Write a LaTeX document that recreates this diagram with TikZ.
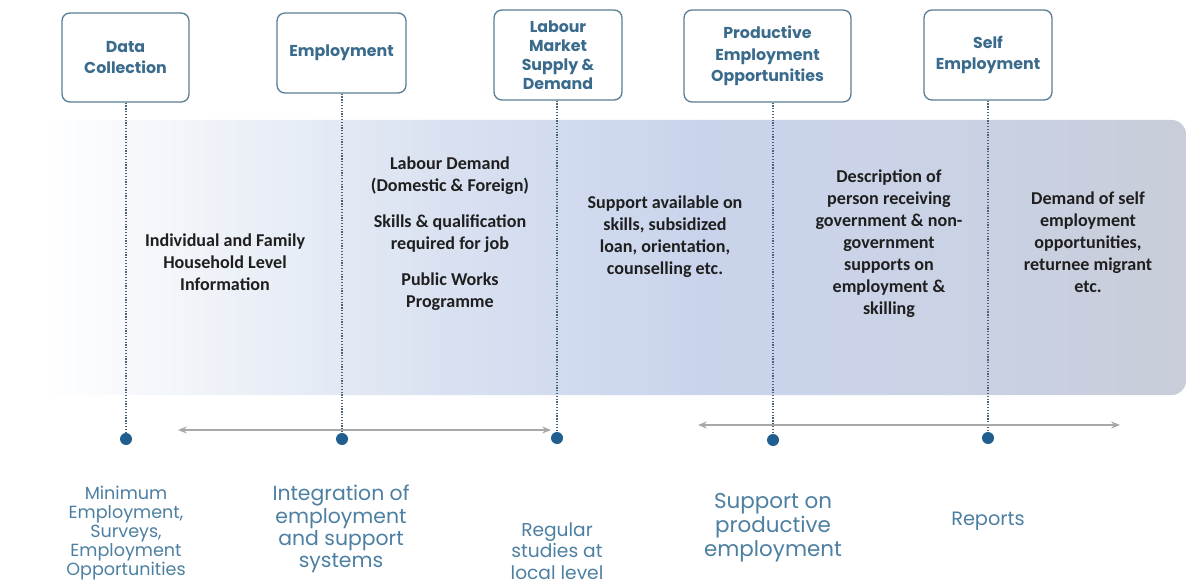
\documentclass[tikz,border=0pt]{standalone}
\usepackage{fontspec}
\setmainfont{Carlito}
\newfontfamily\gothic{Poppins}
\usetikzlibrary{arrows.meta, positioning}

\definecolor{titleblue}{HTML}{3A6B8C}
\definecolor{lblblue}{HTML}{4C7FA1}
\definecolor{boxline}{HTML}{5A7E95}
\definecolor{dotblue}{HTML}{1F5E8E}
\definecolor{vline}{HTML}{4A6378}
\definecolor{arrowgray}{HTML}{A8A8A8}
\definecolor{bandA}{HTML}{EBF0F7}
\definecolor{bandB}{HTML}{D9E1F1}
\definecolor{bandC}{HTML}{C9D4EC}
\definecolor{bandD}{HTML}{CAD2E5}
\definecolor{bandE}{HTML}{C8CDD8}

\begin{document}
\begin{tikzpicture}[
    x=0.02cm, y=-0.02cm,
    box/.style={draw=boxline, line width=0.75pt, rounded corners=4.5pt, fill=white, align=center, inner sep=0pt,
        text=titleblue, font=\gothic\bfseries\fontsize{9}{11.5}\selectfont},
    txt/.style={align=center, inner sep=0pt, text=black!88, font=\bfseries\fontsize{10.3}{12.5}\selectfont},
    lbl/.style={align=center, inner sep=0pt, text=lblblue},
    dot/.style={circle, fill=dotblue, inner sep=0pt, minimum size=0.24cm},
    dline/.style={draw=vline, line width=0.6pt, dash pattern=on 0.7pt off 0.9pt},
    garrow/.style={{Stealth[length=5pt,width=4pt]}-{Stealth[length=5pt,width=4pt]}, draw=arrowgray, line width=0.7pt}
]
    \useasboundingbox (0,0) rectangle (1186,584);

    % shaded band
    \begin{scope}
        \clip[rounded corners=8pt] (40,120) rectangle (1186,395);
        \shade[left color=white, right color=bandA] (40,120) rectangle (251,395);
        \shade[left color=bandA, right color=bandB] (250,120) rectangle (451,395);
        \shade[left color=bandB, right color=bandC] (450,120) rectangle (701,395);
        \shade[left color=bandC, right color=bandD] (700,120) rectangle (951,395);
        \shade[left color=bandD, right color=bandE] (950,120) rectangle (1186,395);
    \end{scope}

    % title boxes
    \node[box, minimum width=2.54cm, minimum height=1.78cm] (dc) at (125.5,57.5) {Data\\Collection};
    \node[box, minimum width=2.58cm, minimum height=1.6cm] (emp) at (341.5,53) {Employment};
    \node[box, minimum width=2.56cm, minimum height=1.8cm, font=\gothic\bfseries\fontsize{9}{10.8}\selectfont] (lab) at (558,55) {Labour\\Market\\Supply \&\\Demand};
    \node[box, minimum width=3.34cm, minimum height=1.84cm, font=\gothic\bfseries\fontsize{9}{12.3}\selectfont] (prod) at (767.5,56) {Productive\\Employment\\Opportunities};
    \node[box, minimum width=2.56cm, minimum height=1.8cm] (self) at (988,55) {Self\\Employment};

    % timeline dots
    \node[dot] (ddc) at (126,439) {};
    \node[dot] (demp) at (342,439) {};
    \node[dot] (dlab) at (557,438) {};
    \node[dot] (dprod) at (773,440) {};
    \node[dot] (dself) at (988,438) {};

    % dotted drops
    \draw[dline] (ddc |- dc.south) -- (ddc);
    \draw[dline] (demp |- emp.south) -- (demp);
    \draw[dline] (dlab |- lab.south) -- (dlab);
    \draw[dline] (dprod |- prod.south) -- (dprod);
    \draw[dline] (dself |- self.south) -- (dself);

    % grey arrows
    \coordinate (la1) at (178,430);
    \coordinate (la2) at (551,430);
    \coordinate (ra1) at (698,425);
    \coordinate (ra2) at (1120,425);
    \draw[garrow] (la1) -- (la2);
    \draw[garrow] (ra1) -- (ra2);

    % band texts
    \node[txt] (fam) at (225,262) {Individual and Family\\Household Level\\Information};
    \node[txt] (need) at (450,234) {Labour Demand\\(Domestic \& Foreign)\\[0.28cm]Skills \& qualification\\required for job\\[0.28cm]Public Works\\Programme};
    \node[txt] (supp) at (665,237) {Support available on\\skills, subsidized\\loan, orientation,\\counselling etc.};
    \node[txt] (desc) at (889,244) {Description of\\person receiving\\government \& non-\\government\\supports on\\employment \&\\skilling};
    \node[txt] (dem) at (1088,242) {Demand of self\\employment\\opportunities,\\returnee migrant\\etc.};

    % bottom labels
    \node[lbl, font=\gothic\fontsize{10}{10.8}\selectfont] (lmin) at (126,533) {Minimum\\Employment,\\Surveys,\\Employment\\Opportunities};
    \node[lbl, font=\gothic\fontsize{11.6}{12.6}\selectfont] (lint) at (341,529) {Integration of\\employment\\and support\\systems};
    \node[lbl, font=\gothic\fontsize{10.6}{12.2}\selectfont] (lreg) at (557,551) {Regular\\studies at\\local level};
    \node[lbl, font=\gothic\fontsize{12.2}{13.6}\selectfont] (lsup) at (773,528) {Support on\\productive\\employment};
    \node[lbl, font=\gothic\fontsize{11}{13}\selectfont] (lrep) at (988,521) {Reports};
\end{tikzpicture}
\end{document}
